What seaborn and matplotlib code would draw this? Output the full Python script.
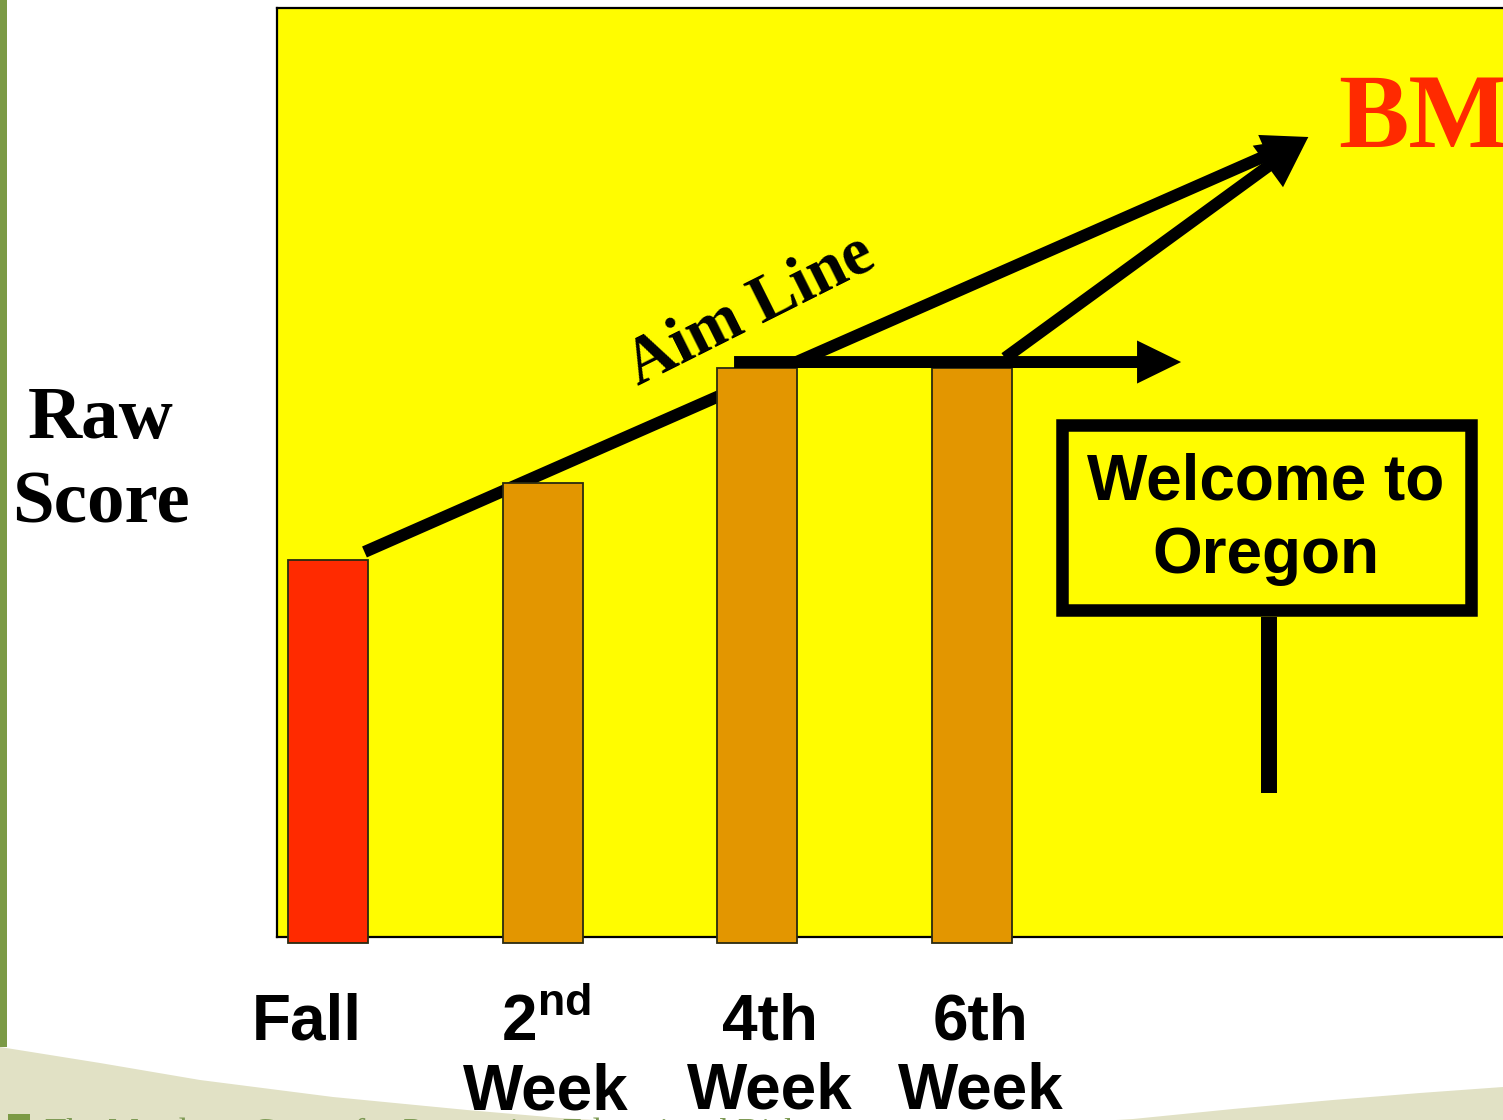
import numpy as np
import pandas as pd
import matplotlib
matplotlib.use("Agg")
import matplotlib.pyplot as plt
import matplotlib.transforms as mtransforms
from matplotlib.patches import Rectangle, Polygon
import seaborn as sns

# ---- data -------------------------------------------------------------
periods = ["Fall", "2nd Week", "4th Week", "6th Week"]
tick_labels = ["Fall", "2$^{\\mathrm{nd}}$\nWeek", "4th\nWeek", "6th\nWeek"]
raw_scores = [20, 24, 30, 30]
bar_colors = ["#FF2A00", "#E39600", "#E39600", "#E39600"]

# aim line: from just past the fall score up to the benchmark goal
aim_start = (0.17, 20.4)
aim_goal = (4.57, 42.05)
benchmark_label = "BM"

# ---- style ------------------------------------------------------------
sns.set_style("white")
plt.rcParams["font.family"] = ["Liberation Sans", "DejaVu Sans"]
plt.rcParams["mathtext.fontset"] = "custom"
plt.rcParams["mathtext.rm"] = "Liberation Sans:bold"
plt.rcParams["mathtext.bf"] = "Liberation Sans:bold"

W, H = 1503, 1120
fig = plt.figure(figsize=(W / 100, H / 100), dpi=100)
fig.patch.set_facecolor("white")


def fpt(px, py):
    """pixel position -> figure fraction"""
    return px / W, 1 - py / H


# slide decoration: green strip on the left and the beige swoosh at the bottom
fig.patches.append(Rectangle(fpt(0, 1047), 7 / W, 1047 / H, transform=fig.transFigure,
                             facecolor="#7B9A45", edgecolor="none", zorder=0))
swoosh_px = [(0, 1047), (100, 1063), (200, 1080), (333, 1097), (467, 1110),
             (560, 1118), (700, 1126), (850, 1130), (1000, 1127), (1133, 1119),
             (1233, 1109), (1333, 1100), (1420, 1093), (1503, 1087),
             (1503, 1140), (0, 1140)]
fig.patches.append(Polygon([fpt(x, y) for x, y in swoosh_px], closed=True,
                           transform=fig.transFigure, facecolor="#E1E1C5",
                           edgecolor="none", zorder=0))
fig.patches.append(Rectangle(fpt(8, 1140), 22 / W, 26 / H, transform=fig.transFigure,
                             facecolor="#7B9A45", edgecolor="none", zorder=1))
fig.text(*fpt(45, 1143), "The Meadows Center for Preventing Educational Risk",
         family="Liberation Serif", fontsize=25, color="#7E9A55",
         ha="left", va="baseline")

# ---- plot area ----------------------------------------------------------
ax_left, ax_right, ax_top, ax_bottom = 277, 1520, 8, 937
ax = fig.add_axes([ax_left / W, 1 - ax_bottom / H,
                   (ax_right - ax_left) / W, (ax_bottom - ax_top) / H])
ax.set_facecolor("#FFFC00")

df = pd.DataFrame({"period": periods, "score": raw_scores})
sns.barplot(data=df, x="period", y="score", hue="period", palette=bar_colors,
            width=0.373, edgecolor="#2A2A10", linewidth=1.3, saturation=1,
            legend=False, ax=ax)
for p in ax.patches:
    p.set_clip_on(False)
    p.set_zorder(3)

ax.set_xlim(-0.2378, 5.557)
ax.set_ylim(0.313, 48.78)
ax.set_xlabel("")
ax.set_ylabel("")
ax.set_yticks([])

for side in ["left", "top", "bottom", "right"]:
    ax.spines[side].set_visible(True)
    ax.spines[side].set_color("black")
    ax.spines[side].set_linewidth(1.6)

ax.set_xticks(range(len(periods)))
ax.set_xticklabels(tick_labels, fontsize=46, fontweight="bold",
                   family="Liberation Sans", linespacing=1.18, color="black")
ax.tick_params(axis="x", length=0, pad=40, labelcolor="black")
label_dx = [-21, 3, 13, 9]
for lab, dx in zip(ax.get_xticklabels(), label_dx):
    lab.set_transform(lab.get_transform() +
                      mtransforms.ScaledTranslation(dx / 100, 0, fig.dpi_scale_trans))

# arrows (sizes in points)
def arrow(start, end, head_len, head_w, z):
    ax.annotate("", xy=end, xytext=start, xycoords="data", textcoords="data",
                arrowprops=dict(arrowstyle=f"simple,head_length={head_len},"
                                           f"head_width={head_w},tail_width=8.6",
                                mutation_scale=1, facecolor="black",
                                edgecolor="none", lw=0, shrinkA=0, shrinkB=0),
                zorder=z, annotation_clip=False)

arrow(aim_start, aim_goal, 32.4, 31.7, 2)
hline_y = raw_scores[3] + 0.31
arrow((1.893, hline_y), (3.977, hline_y), 31.7, 31.0, 4)
arrow((3.156, hline_y + 0.21), aim_goal, 36, 37, 4)

ax.text(1.967, 33.0, "Aim Line", rotation=26.6, rotation_mode="anchor",
        ha="center", va="center", family="Liberation Serif", fontweight="bold",
        fontsize=48, color="black", zorder=5)

ax.text(4.71, 41.55, benchmark_label, family="Liberation Serif", fontweight="bold",
        fontsize=76, color="#FF2A00", ha="left", va="baseline", zorder=5,
        clip_on=False)

# "Welcome to Oregon" sign
ax.add_patch(Rectangle((3.42, 17.37), 5.329 - 3.42, 27.0 - 17.37, facecolor="none",
                       edgecolor="black", lw=9, joinstyle="miter", zorder=4))
ax.plot([4.387, 4.387], [17.0, 7.83], color="black", lw=11.5,
        solid_capstyle="butt", zorder=4)
ax.text(4.373, 22.1, "Welcome to\nOregon", ha="center", va="center",
        multialignment="center", family="Liberation Sans", fontweight="bold",
        fontsize=46, linespacing=1.3, color="black", zorder=5)

# y axis title
fig.text(*fpt(101, 462), "Raw\nScore", ha="center", va="center",
         family="Liberation Serif", fontweight="bold", fontsize=54,
         linespacing=1.31, color="black")

fig.savefig("out.png", dpi=100, facecolor=fig.get_facecolor())
